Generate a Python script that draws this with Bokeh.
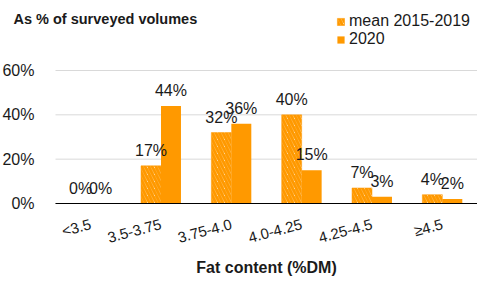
from bokeh.plotting import figure
from bokeh.models import (ColumnDataSource, LabelSet, Legend, LegendItem, Label,
                          NumeralTickFormatter, Range1d, FixedTicker)
from bokeh.core.properties import value
from bokeh.embed import file_html
from bokeh.resources import INLINE

categories = ["<3.5", "3.5-3.75", "3.75-4.0", "4.0-4.25", "4.25-4.5", "≥4.5"]
mean_2015_2019 = [0.0, 0.17, 0.32, 0.40, 0.07, 0.04]
y2020 = [0.0, 0.44, 0.36, 0.15, 0.03, 0.02]
series_names = ["mean 2015-2019", "2020"]
y_ticks = [0, 0.2, 0.4, 0.6]

ORANGE = "#FF9900"
FONT = "Liberation Sans"
TXT = "#1a1a1a"
W, H = 477, 281
LEFT = 55          # px left of the category area
AXIS_Y = 203       # px from top where 0% lies
PX_PER_60 = 133    # px between 0% and 60%
CAT_PX = (W - LEFT) / len(categories)
Y_TOP = 0.6 * AXIS_Y / PX_PER_60
Y_BOT = -0.6 * (H - AXIS_Y) / PX_PER_60
BW = 0.284

centers = [i + 0.5 for i in range(len(categories))]
src = ColumnDataSource(dict(
    xm=[c - BW / 2 for c in centers],
    x2=[c + BW / 2 for c in centers],
    mean=mean_2015_2019,
    y20=y2020,
    mean_lbl=[f"{round(v*100):.0f}%" for v in mean_2015_2019],
    y20_lbl=[f"{round(v*100):.0f}%" for v in y2020],
))

p = figure(x_range=Range1d(-LEFT / CAT_PX, len(categories)), y_range=Range1d(Y_BOT, Y_TOP),
           width=W, height=H, output_backend="svg", toolbar_location=None,
           min_border_left=0, min_border_right=0, min_border_top=0, min_border_bottom=0)
p.outline_line_color = None
p.background_fill_color = "white"
p.border_fill_color = "white"

# horizontal gridlines, only across the plotting area
p.segment(x0=0, x1=len(categories), y0=y_ticks, y1=y_ticks, line_color="#D9D9D9",
          line_width=1, level="underlay")

r1 = p.vbar(x="xm", top="mean", width=BW, source=src, fill_color="white",
            line_color=ORANGE, line_width=0.5, hatch_pattern="\\", hatch_color=ORANGE,
            hatch_scale=7, hatch_weight=3)
r2 = p.vbar(x="x2", top="y20", width=BW, source=src, fill_color=ORANGE, line_color=None)

for xc, col, lbl in [("xm", "mean", "mean_lbl"), ("x2", "y20", "y20_lbl")]:
    p.add_layout(LabelSet(x=xc, y=col, text=lbl, source=src,
                          text_align="center", text_baseline="alphabetic", y_offset=10,
                          text_font=value(FONT), text_font_size=value("16px"),
                          text_color=TXT))

p.xgrid.visible = False
p.ygrid.visible = False

p.yaxis.fixed_location = 0
p.yaxis.ticker = FixedTicker(ticks=y_ticks)
p.yaxis.formatter = NumeralTickFormatter(format="0%")
p.yaxis.axis_line_color = None
p.yaxis.major_tick_line_color = None
p.yaxis.minor_tick_line_color = None
p.yaxis.major_label_text_font = FONT
p.yaxis.major_label_text_font_size = "16px"
p.yaxis.major_label_text_color = TXT
p.yaxis.major_label_standoff = 15

p.xaxis.fixed_location = 0
p.xaxis.bounds = (0, len(categories))
p.xaxis.ticker = FixedTicker(ticks=centers)
p.xaxis.major_label_overrides = {c: lab for c, lab in zip(centers, categories)}
p.xaxis.axis_line_color = "black"
p.xaxis.axis_line_width = 1
p.xaxis.major_tick_line_color = None
p.xaxis.minor_tick_line_color = None
p.xaxis.major_label_orientation = 0.26
p.xaxis.major_label_text_font = FONT
p.xaxis.major_label_text_font_size = "15px"
p.xaxis.major_label_text_color = TXT
p.xaxis.major_label_standoff = 14
p.xaxis.axis_label = "Fat content (%DM)"
p.xaxis.axis_label_text_font = FONT
p.xaxis.axis_label_text_font_size = "16px"
p.xaxis.axis_label_text_font_style = "bold"
p.xaxis.axis_label_text_color = TXT
p.xaxis.axis_label_standoff = 2

p.add_layout(Label(x=13, y=H - 18, x_units="screen", y_units="screen",
                   text="As % of surveyed volumes", text_font=FONT, text_font_size="14.5px",
                   text_font_style="bold", text_color=TXT, text_baseline="middle"))

legend = Legend(items=[LegendItem(label=series_names[0], renderers=[r1]),
                       LegendItem(label=series_names[1], renderers=[r2])],
                location=(336, H - 8 - 40), label_text_font=FONT, label_text_font_size="16px",
                label_text_color=TXT, glyph_width=9, glyph_height=9, spacing=0,
                label_standoff=4, padding=2, margin=0, border_line_color=None,
                background_fill_alpha=0, label_height=16)
p.add_layout(legend, "center")

open("out.html", "w").write(file_html(p, INLINE))
